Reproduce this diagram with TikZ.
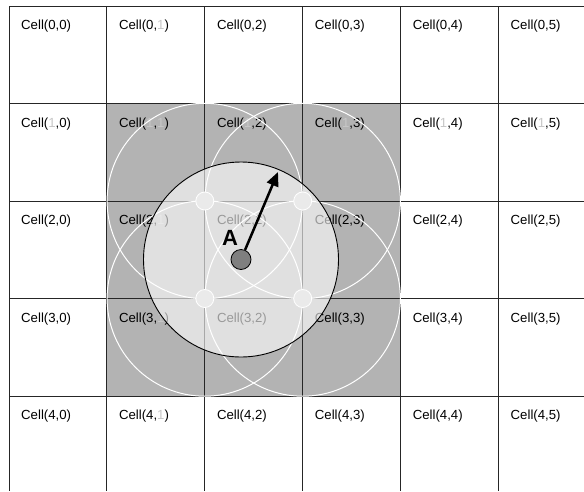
\documentclass[tikz,border=0pt]{standalone}
\usepackage{fontspec}
\setmainfont{Liberation Sans}
\usetikzlibrary{arrows.meta}
\definecolor{cellgray}{HTML}{B3B3B3}
\definecolor{dotgray}{HTML}{7F7F7F}
\newcommand{\pone}{\textcolor{black!22}{1}}
\tikzset{
  gridline/.style={line width=1pt, draw=black!85},
  celllabel/.style={anchor=west, inner sep=0pt, font=\fontsize{13.2}{15}\selectfont},
  whitering/.style={draw=white, line width=1pt},
  smalldot/.style={circle, minimum size=18pt, inner sep=0pt, fill=black!20, draw=white, line width=0.8pt},
  rangecircle/.style={circle, minimum size=195pt, inner sep=0pt, fill=white, fill opacity=0.6, draw=black, line width=0.9pt},
  centerdot/.style={circle, minimum size=20pt, inner sep=0pt, fill=dotgray, draw=black, line width=0.8pt},
  radiusarrow/.style={line width=2.5pt, -{Triangle[length=14pt,width=12pt]}},
}
\begin{document}
\begin{tikzpicture}[x=1pt,y=-1pt]
\useasboundingbox (0,0) rectangle (584,491);
\fill[white] (0,0) rectangle (584,491);
% shaded 3x3 block
\fill[cellgray] (106.9,103.5) rectangle (400.6,396);
% grid
\foreach \yy in {6,103.5,201,298.5,396}
  \draw[gridline] (9,\yy) -- (584,\yy);
\foreach \xx in {9,106.9,204.8,302.7,400.6,498.5}
  \draw[gridline] (\xx,6) -- (\xx,491);
% labels
\foreach \r in {0,...,4}{
  \foreach \c in {0,...,5}{
    \pgfmathsetmacro{\lx}{9+97.9*\c+12}
    \pgfmathsetmacro{\ly}{6+97.5*\r+20.5}
    \ifnum\r=1 \def\rs{\pone}\else\edef\rs{\r}\fi
    \ifnum\c=1 \def\cs{\pone}\else\edef\cs{\c}\fi
    \node[celllabel] (c\r\c) at (\lx,\ly) {Cell(\rs,\cs)};
  }
}
% white coverage rings around intersections
\foreach \px/\py in {204.8/201, 302.7/201, 204.8/298.5, 302.7/298.5}{
  \draw[whitering] (\px,\py) circle[radius=97.7];
}
\foreach \px/\py [count=\i] in {204.8/201, 302.7/201, 204.8/298.5, 302.7/298.5}{
  \node[smalldot] (p\i) at (\px,\py) {};
}
% range circle of A
\node[rangecircle] (range) at (241,259.5) {};
\node[centerdot] (Adot) at (241,259.5) {};
\coordinate (tip) at (278,172);
\draw[radiusarrow] (Adot) -- (tip);
\node[inner sep=0pt, font=\bfseries\fontsize{22}{22}\selectfont] (Alabel) at (230,237.5) {A};
\end{tikzpicture}
\end{document}
